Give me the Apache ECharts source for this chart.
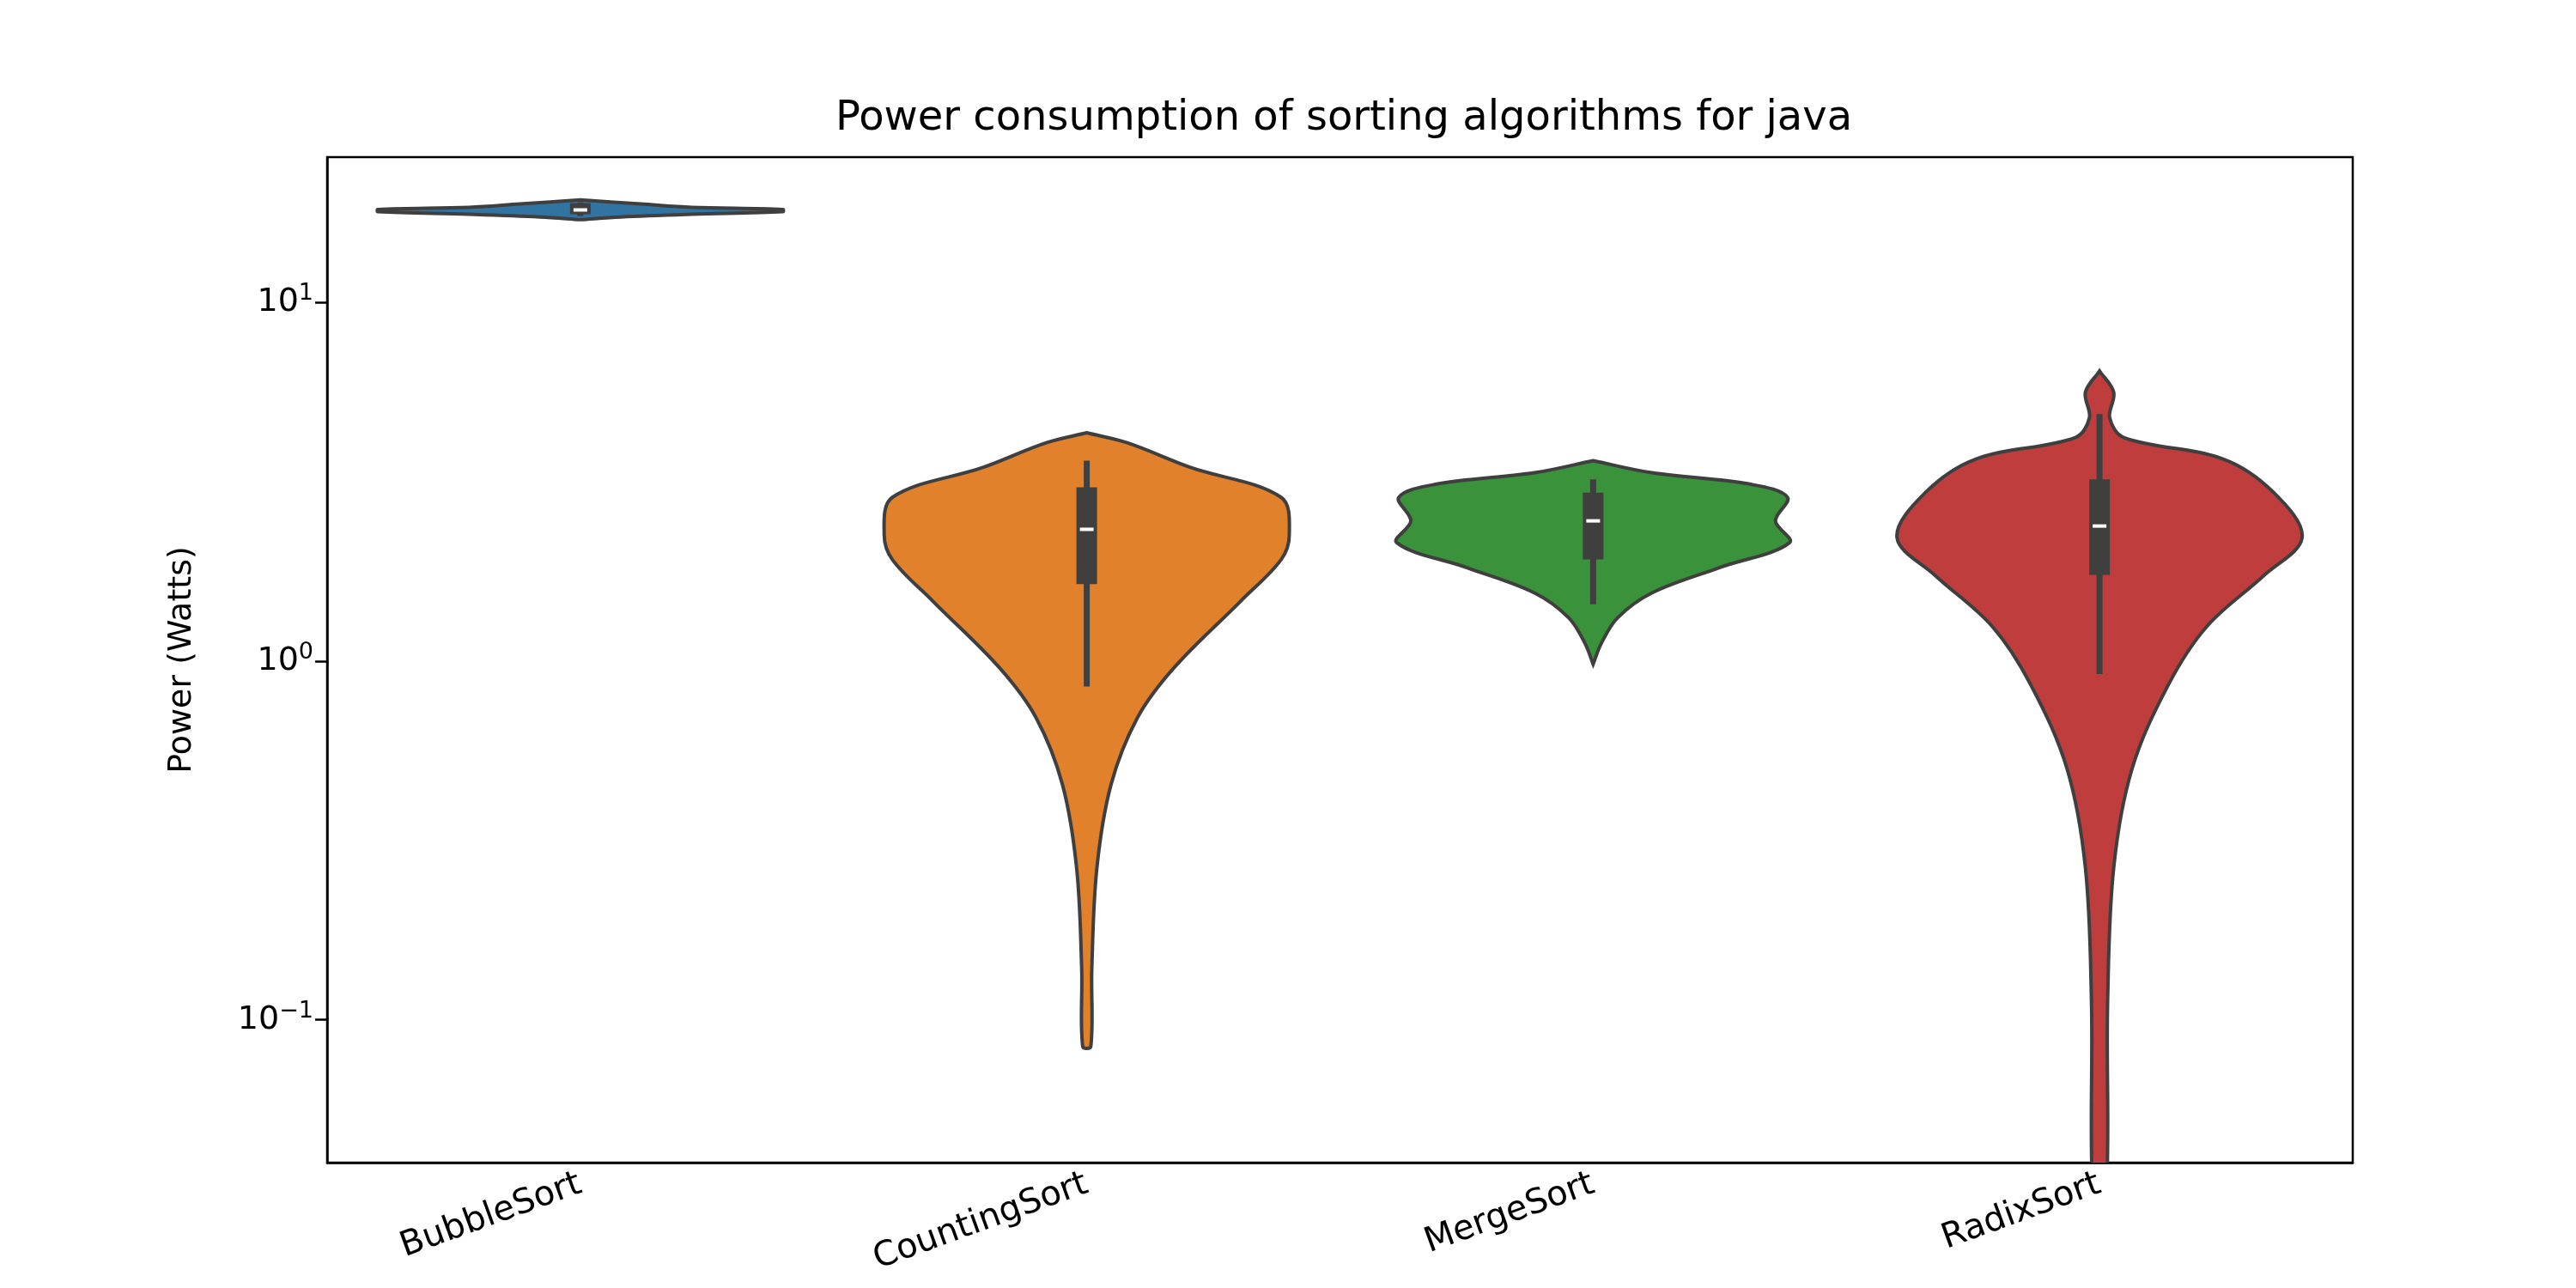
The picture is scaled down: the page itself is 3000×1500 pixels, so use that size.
<!DOCTYPE html>
<html>
  <head>
    <meta charset="UTF-8" />
    <script src="https://cdn.jsdelivr.net/npm/echarts@6/dist/echarts.min.js"></script>
    <style>
      body { margin: 0; background: #fff; }
      #main { width: 3000px; height: 1500px; }
    </style>
  </head>
  <body>
    <div id="main"></div>
    <script>
      const categories = ['BubbleSort', 'CountingSort', 'MergeSort', 'RadixSort'];
      const colors = ['#3274a1', '#e1812c', '#3a923a', '#c03d3e'];

      // density outlines: [value, relative half width]
      const bubbleProfile = [[17.0, 0], [17.3, 0.2], [17.6, 0.55], [17.9, 1.0], [18.15, 1.0], [18.4, 0.55], [18.8, 0.3], [19.3, 0]];
      const countingProfile = [[4.33, 0], [4.06, 0.2], [3.47, 0.51], [2.86, 0.96], [2.25, 1.0], [1.92, 0.96], [1.47, 0.76], [0.957, 0.43], [0.695, 0.25], [0.453, 0.12], [0.265, 0.05], [0.139, 0.025], [0.0843, 0.02]];
      const mergeProfile = [[3.62, 0], [3.35, 0.29], [3.11, 0.78], [2.86, 0.96], [2.46, 0.9], [2.14, 0.97], [1.82, 0.62], [1.55, 0.29], [1.32, 0.12], [1.12, 0.04], [0.98, 0]];
      const radixProfile = [[6.44, 0], [5.61, 0.07], [4.77, 0.05], [4.2, 0.12], [3.66, 0.61], [2.95, 0.86], [2.21, 1.0], [1.73, 0.81], [1.25, 0.53], [0.86, 0.34], [0.5, 0.16], [0.266, 0.07], [0.113, 0.04], [0.03, 0.03]];
      const profiles = [bubbleProfile, countingProfile, mergeProfile, radixProfile];

      // [whiskerLow, q1, median, q3, whiskerHigh]
      const boxStats = [
        [17.4, 17.6, 18.1, 18.9, 19.0],
        [0.85, 1.64, 2.33, 3.05, 3.62],
        [1.44, 1.92, 2.46, 2.95, 3.21],
        [0.92, 1.74, 2.38, 3.21, 4.88]
      ];

      const yTicks = [0.1, 1, 10];
      const yTickLabels = { 0.1: '10{s|−1}', 1: '10{s|0}', 10: '10{s|1}' };

      const chart = echarts.init(document.getElementById('main'));

      function renderItem(params, api) {
        const idx = api.value(0);
        const prof = profiles[idx];
        const st = boxStats[idx];
        const cx = api.coord([idx, 1])[0];
        const half = api.size([1, 1])[0] * 0.4;
        const right = prof.map(p => [cx + p[1] * half, api.coord([idx, p[0]])[1]]);
        const left = prof.map(p => [cx - p[1] * half, api.coord([idx, p[0]])[1]]).reverse();
        const yq1 = api.coord([idx, st[1]])[1];
        const yq3 = api.coord([idx, st[3]])[1];
        const ymed = api.coord([idx, st[2]])[1];
        const bw = 12;
        return {
          type: 'group',
          children: [
            {
              type: 'polygon',
              shape: { points: right.concat(left), smooth: 0.35 },
              style: { fill: colors[idx], stroke: '#3f3f3f', lineWidth: 4 }
            },
            {
              type: 'line',
              shape: { x1: cx, y1: api.coord([idx, st[0]])[1], x2: cx, y2: api.coord([idx, st[4]])[1] },
              style: { stroke: '#3f3f3f', lineWidth: 7 }
            },
            {
              type: 'rect',
              shape: { x: cx - bw, y: yq3, width: bw * 2, height: yq1 - yq3 },
              style: { fill: '#3f3f3f' }
            },
            {
              type: 'line',
              shape: { x1: cx - 8, y1: ymed, x2: cx + 8, y2: ymed },
              style: { stroke: '#fff', lineWidth: 4 }
            }
          ]
        };
      }

      chart.setOption({
        animation: false,
        title: {
          text: 'Power consumption of sorting algorithms for java',
          left: 1560,
          top: 110,
          textAlign: 'center',
          textStyle: { fontFamily: 'DejaVu Sans', fontSize: 48, fontWeight: 'normal', color: '#000' }
        },
        grid: {
          left: 381, right: 260, top: 183, bottom: 146,
          show: true, borderColor: '#000', borderWidth: 2.5, backgroundColor: '#fff'
        },
        xAxis: {
          type: 'category',
          data: categories,
          axisLine: { lineStyle: { color: '#000', width: 2.5 } },
          axisTick: { alignWithLabel: true, length: 14, lineStyle: { color: '#000', width: 2.5 } },
          axisLabel: { rotate: 20, margin: 24, fontFamily: 'DejaVu Sans', fontSize: 40, color: '#000' }
        },
        yAxis: {
          type: 'log',
          min: 0.04,
          max: 25.4,
          name: 'Power (Watts)',
          nameLocation: 'middle',
          nameGap: 150,
          nameTextStyle: { fontFamily: 'DejaVu Sans', fontSize: 38, color: '#000' },
          splitLine: { show: false },
          axisLine: { show: true, lineStyle: { color: '#000', width: 2.5 } },
          axisTick: { show: true, length: 14, customValues: yTicks, lineStyle: { color: '#000', width: 2.5 } },
          axisLabel: {
            customValues: yTicks,
            margin: 16,
            formatter: v => yTickLabels[v] || '',
            fontFamily: 'DejaVu Sans',
            fontSize: 38,
            color: '#000',
            rich: { s: { fontSize: 27, verticalAlign: 'top', padding: [0, 0, 20, 0], fontFamily: 'DejaVu Sans', color: '#000' } }
          }
        },
        series: [{
          type: 'custom',
          clip: true,
          renderItem,
          encode: { x: 0, y: 1 },
          data: categories.map((c, i) => [i, boxStats[i][2]])
        }]
      });
    </script>
  </body>
</html>
